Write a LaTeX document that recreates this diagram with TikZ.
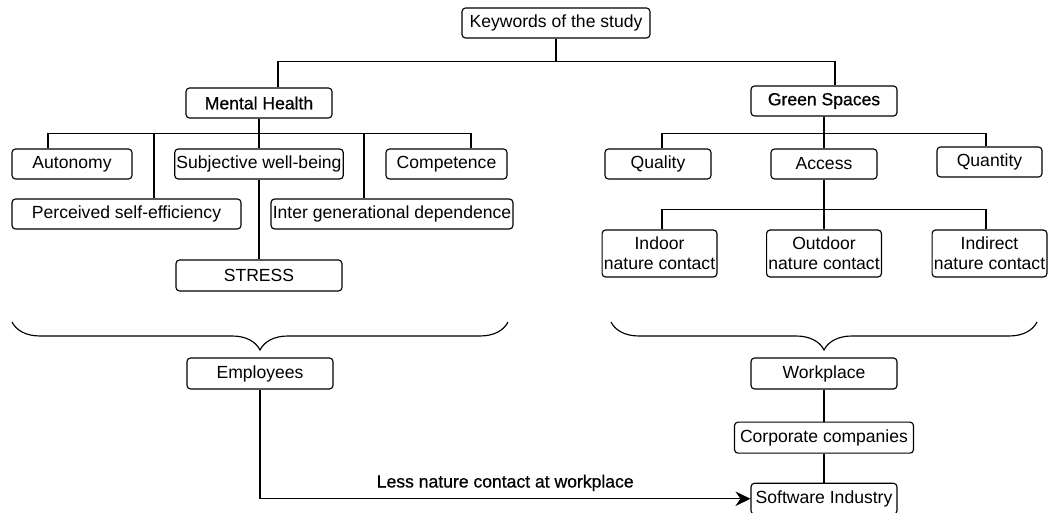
\documentclass[tikz,border=0pt]{standalone}
\usepackage{fontspec}
\setmainfont{Liberation Sans}
\newfontfamily\medfont{Liberation Sans}[FakeBold=0.7]
\usetikzlibrary{arrows.meta,positioning,decorations.pathreplacing}
\tikzset{
  b/.style={rectangle,draw,rounded corners=2pt,minimum height=0.6cm,inner sep=1pt,align=center,font=\fontsize{10}{11.5}\selectfont},
  bb/.style={b,font=\fontsize{10}{11.5}\selectfont\medfont},
  b2/.style={b,minimum height=0.94cm},
  ln/.style={line width=0.65pt},
  arr/.style={-{Stealth[length=3mm,width=2.9mm,inset=1mm]},line width=0.65pt},
  brc/.style={decorate,decoration={brace,mirror,amplitude=0.56cm},line width=0.65pt},
}
\begin{document}
\begin{tikzpicture}[x=0.02cm,y=-0.02cm,line width=0.65pt]
  \useasboundingbox (0,0) rectangle (1048,513);
  % top
  \node[b,minimum width=3.76cm] (kw) at (556,23) {Keywords of the study};
  \node[bb,minimum width=2.92cm] (mh) at (259,103) {Mental Health};
  \node[bb,minimum width=2.92cm] (gs) at (824,101) {Green Spaces};
  \draw[ln] (kw.south) -- ++(0,23) -| ([xshift=0.38cm]mh.north);
  \draw[ln] (kw.south) -- ++(0,23) -| ([xshift=0.22cm]gs.north);
  % mental health side
  \node[b,minimum width=2.4cm] (aut) at (72,164) {Autonomy};
  \node[b,minimum width=3.32cm] (swb) at (259,164) {Subjective well-being};
  \node[b,minimum width=2.42cm] (comp) at (446.5,164) {Competence};
  \node[b,minimum width=4.58cm] (pse) at (126.5,214) {Perceived self-efficiency};
  \node[b,minimum width=4.6cm] (igd) at (392,214) {Inter generational dependence};
  \node[b,minimum width=3.32cm,minimum height=0.62cm] (str) at (259,275.5) {STRESS};
  \draw[ln] (mh.south) -- ++(0,15) -| ([xshift=-0.48cm]aut.north);
  \draw[ln] (mh.south) -- ++(0,15) -| ([xshift=0.55cm]pse.north);
  \draw[ln] (mh.south) -- (swb.north);
  \draw[ln] (mh.south) -- ++(0,15) -| ([xshift=-0.56cm]igd.north);
  \draw[ln] (mh.south) -- ++(0,15) -| ([xshift=0.49cm]comp.north);
  \draw[ln] (swb) -- (str);
  % green spaces side
  \node[b,minimum width=2.12cm] (qual) at (658,164) {Quality};
  \node[b,minimum width=2.12cm] (acc) at (824,164) {Access};
  \node[b,minimum width=2.1cm] (quan) at (989.5,162) {Quantity};
  \draw[ln] (gs.south) -- ++(0,17) -| ([xshift=0.08cm]qual.north);
  \draw[ln] (gs.south) -- (acc.north);
  \draw[ln] (gs.south) -- ++(0,17) -| ([xshift=-0.07cm]quan.north);
  \node[b2,minimum width=2.18cm] (ind) at (659.5,253.5) {Indoor\\nature contact};
  \node[b2,minimum width=2.2cm] (out) at (824,253.5) {Outdoor\\nature contact};
  \node[b2,minimum width=2.1cm] (dir) at (989.5,253.5) {Indirect\\nature contact};
  \draw[ln] (acc.south) -- ++(0,30) -| ([xshift=0.05cm]ind.north);
  \draw[ln] (acc.south) -- (out.north);
  \draw[ln] (acc.south) -- ++(0,30) -| ([xshift=-0.07cm]dir.north);
  % braces
  \draw[brc] (12,322) -- (508,322);
  \draw[brc] (611,322) -- (1037,322);
  \node[b,minimum width=2.92cm,minimum height=0.62cm] (emp) at (260,373.5) {Employees};
  \node[b,minimum width=2.92cm,minimum height=0.62cm] (wp) at (824,373.5) {Workplace};
  \node[b,minimum width=3.58cm,minimum height=0.62cm,below=0.64cm of wp] (corp) {Corporate companies};
  \node[b,minimum width=2.92cm,minimum height=0.62cm,below=0.58cm of corp] (sw) {Software Industry};
  \draw[ln] (wp) -- (corp); \draw[ln] (corp) -- (sw);
  \draw[arr] (emp.south) |- (sw.west) node[pos=0.75,above,inner sep=4pt,font=\fontsize{10}{12}\selectfont\medfont] {Less nature contact at workplace};
\end{tikzpicture}
\end{document}
